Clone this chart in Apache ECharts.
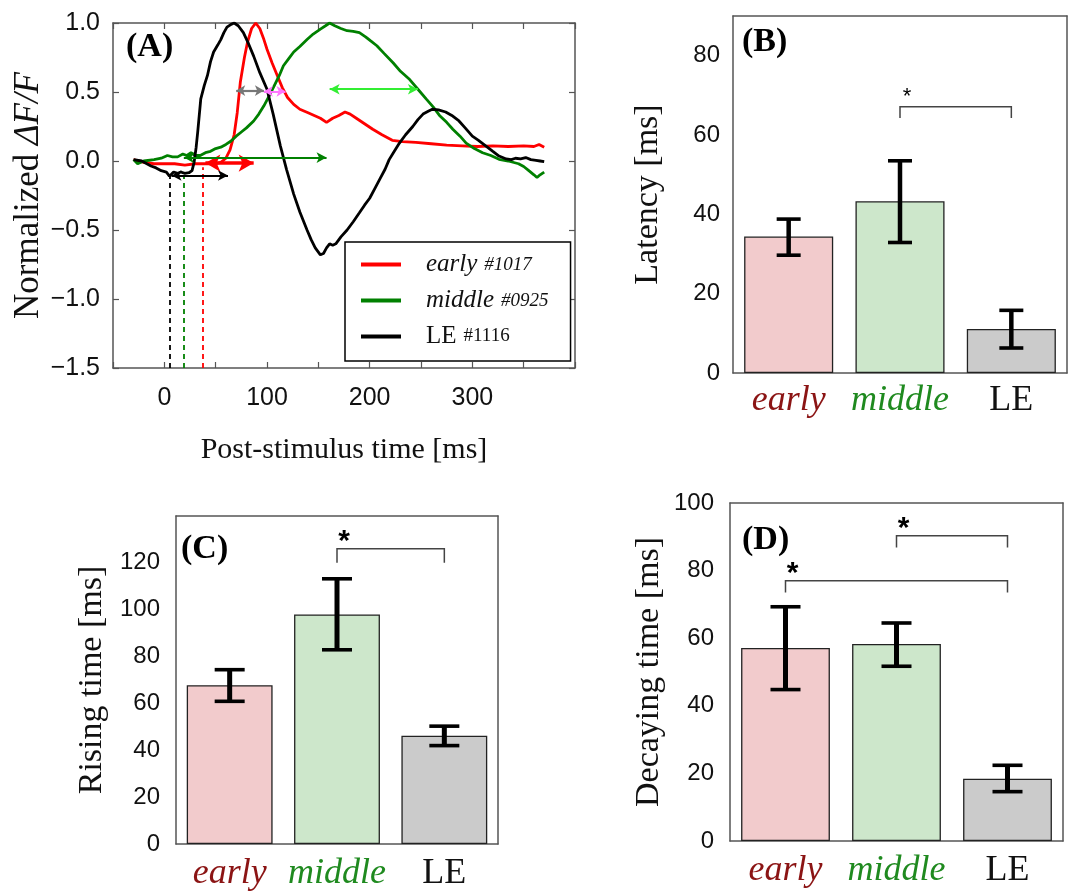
<!DOCTYPE html>
<html>
<head>
<meta charset="utf-8">
<title>Latency, rising and decaying time</title>
<script src="https://cdn.jsdelivr.net/npm/echarts@6/dist/echarts.min.js"></script>
<style>
  html, body { margin: 0; padding: 0; background: #fff; }
  #chart { width: 1073px; height: 892px; }
</style>
</head>
<body>
<div id="chart"></div>
<script>
// ---- panel A : normalized traces [time ms, dF/F] ----
const earlyTrace = [[-30,0.01],[-20,-0.01],[-10,-0.02],[0,-0.02],[10,-0.02],[20,-0.03],[30,-0.02],[40,-0.02],[50,-0.02],[55,-0.01],[60,0.02],[64,0.08],[68,0.19],[71,0.35],[74,0.57],[78,0.75],[81,0.86],[85,0.96],[89,1.0],[93,0.96],[97,0.88],[100,0.81],[105,0.71],[110,0.62],[115,0.53],[120,0.46],[126,0.41],[132,0.375],[140,0.35],[146,0.33],[152,0.31],[158,0.28],[164,0.31],[170,0.33],[176,0.355],[181,0.34],[187,0.31],[195,0.27],[203,0.23],[212,0.19],[222,0.15],[232,0.14],[245,0.135],[260,0.125],[275,0.115],[290,0.11],[305,0.105],[320,0.11],[335,0.105],[350,0.11],[360,0.105],[365,0.12],[370,0.1]];
const middleTrace = [[-30,0.01],[-26,-0.02],[-20,0.0],[-10,0.01],[-3,0.02],[3,0.04],[8,0.03],[13,0.03],[18,0.05],[22,0.04],[26,0.06],[30,0.04],[35,0.04],[40,0.06],[45,0.07],[50,0.09],[55,0.1],[60,0.12],[65,0.145],[70,0.18],[75,0.21],[80,0.24],[87,0.29],[92,0.34],[97,0.40],[102,0.47],[107,0.545],[112,0.62],[116,0.69],[121,0.74],[126,0.79],[132,0.83],[139,0.88],[145,0.92],[152,0.956],[157,0.98],[161,1.0],[166,0.98],[172,0.96],[178,0.944],[184,0.94],[190,0.93],[196,0.9],[201,0.87],[207,0.835],[214,0.78],[223,0.71],[230,0.65],[239,0.59],[247,0.52],[255,0.45],[262,0.39],[268,0.33],[275,0.28],[281,0.23],[288,0.18],[294,0.13],[302,0.09],[310,0.06],[318,0.04],[326,0.012],[335,0.0],[345,-0.02],[350,-0.04],[355,-0.07],[360,-0.1],[363,-0.12],[366,-0.1],[370,-0.08]];
const leTrace = [[-30,0.01],[-22,0.0],[-13,-0.036],[-8,-0.05],[-3,-0.07],[2,-0.08],[5,-0.11],[9,-0.08],[13,-0.09],[16,-0.08],[20,-0.09],[24,-0.085],[27,-0.07],[29,-0.01],[31,0.1],[32.5,0.21],[35.5,0.45],[39,0.55],[42,0.62],[45,0.72],[48,0.79],[52,0.84],[55,0.88],[58,0.93],[61,0.97],[65,0.99],[68,1.0],[72,0.98],[77,0.93],[82,0.85],[87,0.76],[93,0.64],[100,0.52],[106,0.34],[113,0.11],[119,-0.06],[126,-0.24],[132,-0.37],[139,-0.50],[143,-0.57],[147,-0.63],[152,-0.68],[155,-0.67],[158,-0.63],[161,-0.60],[164,-0.61],[167,-0.6],[172,-0.55],[178,-0.50],[184,-0.44],[190,-0.375],[195,-0.32],[200,-0.27],[205,-0.2],[210,-0.13],[215,-0.06],[219,0.01],[224,0.07],[229,0.13],[235,0.19],[242,0.25],[247,0.3],[252,0.34],[257,0.36],[261,0.375],[267,0.37],[274,0.355],[280,0.33],[287,0.29],[293,0.24],[300,0.18],[306,0.15],[313,0.11],[320,0.07],[326,0.036],[333,0.015],[338,0.01],[342,0.02],[347,0.015],[352,0.025],[357,0.01],[362,0.005],[366,0.0],[370,-0.005]];

// onset (dashed lines) per trace: [time, level it reaches]
const onsetEarly = [37, -0.045];
const onsetMiddle = [19, -0.11];
const onsetLE = [5, -0.11];
// rising-time arrows: [from ms, to ms, level]
const riseEarly = [40, 87, -0.015];
const riseMiddle = [19, 158, 0.025];
const riseLE = [7, 62, -0.105];
// decay (half height) arrows: [from ms, to ms, level]
const decayEarly = [97, 118, 0.505];
const decayMiddle = [161, 247, 0.52];
const decayLE = [70, 97, 0.51];

const unitIds = ['#1017', '#0925', '#1116'];

// ---- panels B-D : group means and error-bar ends ----
const categories = ['early', 'middle', 'LE'];
const latencyMean = [34.4, 43.3, 11.1];
const latencyLow = [29.7, 32.9, 6.3];
const latencyHigh = [38.8, 53.5, 15.8];
const risingMean = [67.8, 98.0, 46.2];
const risingLow = [60.9, 82.9, 42.0];
const risingHigh = [74.4, 113.2, 50.3];
const decayMean = [57.1, 58.3, 18.4];
const decayLow = [44.8, 51.7, 14.6];
const decayHigh = [69.3, 64.5, 22.4];
// significance brackets: [from category, to category, bar level, foot level]
const latencySig = [[1, 2, 67.1, 64.3]];
const risingSig = [[1, 2, 126, 120]];
const decaySig = [[1, 2, 90.3, 86.8], [0, 2, 77, 73.5]];

const SERIF = '"Liberation Serif", "Times New Roman", serif';
const SANS = '"Liberation Sans", Arial, sans-serif';
const AXIS_COLOR = '#555';
const traceColors = ['#ff0000', '#008000', '#000000'];
const barColors = ['#f2cbcc', '#cde7cb', '#cbcbcb'];
const catColors = ['#8b1414', '#1f8a1f', '#111111'];

const tickStyle = { inside: true, length: 6, lineStyle: { color: AXIS_COLOR, width: 1.2 } };
const lineStyleAxis = { show: true, onZero: false, lineStyle: { color: AXIS_COLOR, width: 1.5 } };

function arrow(seg, color, width, size) {
  return [
    { coord: [seg[0], seg[2]], symbol: 'arrow', symbolSize: size, lineStyle: { color: color, width: width, type: 'solid' } },
    { coord: [seg[1], seg[2]], symbol: 'arrow', symbolSize: size }
  ];
}

function dashed(onset, color) {
  return [
    { coord: [onset[0], -1.5], symbol: 'none', lineStyle: { color: color, width: 1.8, type: [5, 4] } },
    { coord: [onset[0], onset[1]], symbol: 'none' }
  ];
}

function traceSeries(name, data, color, marks) {
  return {
    name: name,
    type: 'line',
    xAxisIndex: 0,
    yAxisIndex: 0,
    data: data,
    showSymbol: false,
    symbol: 'none',
    lineStyle: { color: color, width: 2.8 },
    itemStyle: { color: color },
    z: 3,
    markLine: {
      silent: true,
      animation: false,
      label: { show: false },
      emphasis: { disabled: true },
      data: marks
    }
  };
}

function categoryAxes(gridIndex, labelMargin) {
  const rich = {};
  categories.forEach((c, i) => {
    rich['c' + i] = {
      fontFamily: SERIF, fontSize: 36, color: catColors[i],
      fontStyle: i < 2 ? 'italic' : 'normal'
    };
  });
  return [
    {
      type: 'category', gridIndex: gridIndex, data: categories, position: 'bottom',
      axisLine: lineStyleAxis, axisTick: Object.assign({ alignWithLabel: true }, tickStyle),
      axisLabel: { margin: labelMargin, formatter: (v) => '{c' + categories.indexOf(v) + '|' + v + '}', rich: rich },
      splitLine: { show: false }
    },
    {
      type: 'category', gridIndex: gridIndex, data: categories, position: 'top',
      axisLine: lineStyleAxis, axisTick: Object.assign({ alignWithLabel: true }, tickStyle),
      axisLabel: { show: false }, splitLine: { show: false }
    }
  ];
}

function valueAxes(gridIndex, max, interval, labelEvery, labelMax, name, nameGap, margin) {
  return [
    {
      type: 'value', gridIndex: gridIndex, min: 0, max: max, interval: interval, position: 'left',
      axisLine: lineStyleAxis, axisTick: tickStyle, splitLine: { show: false },
      axisLabel: {
        margin: margin, fontFamily: SANS, fontSize: 24, color: '#111',
        formatter: (v) => (v % labelEvery === 0 && v <= labelMax) ? String(v) : ''
      },
      name: name, nameLocation: 'middle', nameGap: nameGap, nameRotate: 90,
      nameTextStyle: { fontFamily: SERIF, fontSize: 34, color: '#111' }
    },
    {
      type: 'value', gridIndex: gridIndex, min: 0, max: max, interval: interval, position: 'right',
      axisLine: lineStyleAxis, axisTick: tickStyle, splitLine: { show: false },
      axisLabel: { show: false }
    }
  ];
}

function barSeries(axisIndex, means) {
  return {
    type: 'bar',
    xAxisIndex: axisIndex,
    yAxisIndex: axisIndex,
    barWidth: '80%',
    data: means.map((v, i) => ({ value: v, itemStyle: { color: barColors[i] } })),
    itemStyle: { borderColor: '#222', borderWidth: 1.3 },
    silent: true,
    z: 2
  };
}

function errorSeries(axisIndex, low, high, capHalf, width) {
  return {
    type: 'custom',
    xAxisIndex: axisIndex,
    yAxisIndex: axisIndex,
    silent: true,
    z: 5,
    data: low.map((lo, i) => [i, lo, high[i]]),
    encode: { x: 0, y: [1, 2] },
    renderItem: function (params, api) {
      const top = api.coord([api.value(0), api.value(2)]);
      const bot = api.coord([api.value(0), api.value(1)]);
      return {
        type: 'group',
        children: [
          { type: 'line', shape: { x1: top[0], y1: top[1], x2: bot[0], y2: bot[1] }, style: { stroke: '#000', lineWidth: width } },
          { type: 'line', shape: { x1: top[0] - capHalf, y1: top[1], x2: top[0] + capHalf, y2: top[1] }, style: { stroke: '#000', lineWidth: 3.6 } },
          { type: 'line', shape: { x1: bot[0] - capHalf, y1: bot[1], x2: bot[0] + capHalf, y2: bot[1] }, style: { stroke: '#000', lineWidth: 3.6 } }
        ]
      };
    }
  };
}

function bracketSeries(axisIndex, brackets, starSize, starBold) {
  return {
    type: 'custom',
    xAxisIndex: axisIndex,
    yAxisIndex: axisIndex,
    silent: true,
    z: 6,
    data: brackets,
    encode: { x: [0, 1], y: [2, 3] },
    renderItem: function (params, api) {
      const a = api.coord([api.value(0), api.value(2)]);
      const b = api.coord([api.value(1), api.value(2)]);
      const foot = api.coord([api.value(0), api.value(3)])[1];
      return {
        type: 'group',
        children: [
          {
            type: 'polyline',
            shape: { points: [[a[0], foot], [a[0], a[1]], [b[0], a[1]], [b[0], foot]] },
            style: { stroke: '#444', lineWidth: 1.5, fill: null }
          },
          {
            type: 'text',
            style: {
              text: '*', x: a[0] + 7, y: a[1] - 15 + starSize * 0.25,
              align: 'center', verticalAlign: 'middle',
              font: (starBold ? 'bold ' : '') + starSize + 'px ' + SANS, fill: '#000'
            }
          }
        ]
      };
    }
  };
}

const chart = echarts.init(document.getElementById('chart'), null, { renderer: 'canvas' });

const titleStyle = { fontFamily: SERIF, fontWeight: 'bold', fontSize: 34, lineHeight: 34, color: '#000' };

const option = {
  backgroundColor: '#fff',
  animation: false,
  title: [
    { text: '(A)', left: 126, top: 30, padding: 0, textStyle: titleStyle },
    { text: '(B)', left: 742, top: 25, padding: 0, textStyle: titleStyle },
    { text: '(C)', left: 181, top: 532, padding: 0, textStyle: titleStyle },
    { text: '(D)', left: 742, top: 523, padding: 0, textStyle: titleStyle }
  ],
  legend: {
    data: ['early', 'middle', 'LE'],
    orient: 'vertical',
    left: 345,
    top: 242,
    icon: 'rect',
    itemWidth: 40,
    itemHeight: 4,
    itemGap: 11,
    padding: [10, 22, 12, 16],
    borderColor: '#000',
    borderWidth: 1.5,
    backgroundColor: '#fff',
    selectedMode: false,
    formatter: function (name) {
      const i = categories.indexOf(name);
      return i < 2 ? '{it|' + name + '}{iu|' + unitIds[i] + '}' : '{rt|' + name + '}{ru|' + unitIds[i] + '}';
    },
    textStyle: {
      color: '#111',
      rich: {
        it: { fontFamily: SERIF, fontStyle: 'italic', fontSize: 25, lineHeight: 30, padding: [0, 0, 0, 20] },
        iu: { fontFamily: SERIF, fontStyle: 'italic', fontSize: 19, lineHeight: 30, padding: [0, 0, 0, 7] },
        rt: { fontFamily: SERIF, fontSize: 25, lineHeight: 30, padding: [0, 0, 0, 20] },
        ru: { fontFamily: SERIF, fontSize: 19, lineHeight: 30, padding: [0, 0, 0, 7] }
      }
    }
  },
  grid: [
    { left: 113, top: 23, width: 462, height: 345 },
    { left: 733, top: 16, width: 334, height: 357 },
    { left: 176, top: 516, width: 322, height: 333 },
    { left: 730, top: 503, width: 333, height: 338 }
  ],
  xAxis: [
    {
      type: 'value', gridIndex: 0, min: -50, max: 400, interval: 50, position: 'bottom',
      axisLine: lineStyleAxis, axisTick: tickStyle, splitLine: { show: false },
      axisLabel: {
        margin: 18, fontFamily: SANS, fontSize: 25, color: '#111',
        formatter: (v) => (v >= 0 && v < 400 && v % 100 === 0) ? String(v) : ''
      },
      name: 'Post-stimulus time [ms]', nameLocation: 'middle', nameGap: 67,
      nameTextStyle: { fontFamily: SERIF, fontSize: 30, color: '#111' }
    },
    {
      type: 'value', gridIndex: 0, min: -50, max: 400, interval: 50, position: 'top',
      axisLine: lineStyleAxis, axisTick: tickStyle, splitLine: { show: false }, axisLabel: { show: false }
    }
  ].concat(categoryAxes(1, 10), categoryAxes(2, 12), categoryAxes(3, 12)),
  yAxis: [
    {
      type: 'value', gridIndex: 0, min: -1.5, max: 1.0, interval: 0.5, position: 'left',
      axisLine: lineStyleAxis, axisTick: tickStyle, splitLine: { show: false },
      axisLabel: {
        margin: 13, fontFamily: SANS, fontSize: 25, color: '#111',
        formatter: (v) => v.toFixed(1).replace('-', '\u2212')
      },
      name: '{n|Normalized }{i|\u0394F/F}', nameLocation: 'middle', nameGap: 66, nameRotate: 90,
      nameTextStyle: {
        color: '#111',
        rich: {
          n: { fontFamily: SERIF, fontSize: 35 },
          i: { fontFamily: SERIF, fontSize: 35, fontStyle: 'italic' }
        }
      }
    },
    {
      type: 'value', gridIndex: 0, min: -1.5, max: 1.0, interval: 0.5, position: 'right',
      axisLine: lineStyleAxis, axisTick: tickStyle, splitLine: { show: false }, axisLabel: { show: false }
    }
  ].concat(
    valueAxes(1, 90, 10, 20, 80, 'Latency [ms]', 68, 13),
    valueAxes(2, 140, 20, 20, 120, 'Rising time [ms]', 67, 16),
    valueAxes(3, 100, 20, 20, 100, 'Decaying time [ms]', 64, 16)
  ),
  series: [
    traceSeries('early', earlyTrace, traceColors[0], [
      dashed(onsetEarly, traceColors[0]),
      arrow(riseEarly, '#ff0000', 3.5, [13, 15]),
      arrow(decayEarly, '#ff77ff', 2, [8, 9])
    ]),
    traceSeries('middle', middleTrace, traceColors[1], [
      dashed(onsetMiddle, traceColors[1]),
      arrow(riseMiddle, '#008000', 1.8, [8, 10]),
      arrow(decayMiddle, '#33ee33', 1.8, [8, 10])
    ]),
    traceSeries('LE', leTrace, traceColors[2], [
      dashed(onsetLE, traceColors[2]),
      arrow(riseLE, '#000000', 1.8, [8, 10]),
      arrow(decayLE, '#777777', 2.2, [8, 9])
    ]),
    barSeries(2, latencyMean),
    errorSeries(2, latencyLow, latencyHigh, 12, 4.5),
    bracketSeries(2, latencySig, 22, false),
    barSeries(4, risingMean),
    errorSeries(4, risingLow, risingHigh, 15, 5),
    bracketSeries(4, risingSig, 30, true),
    barSeries(6, decayMean),
    errorSeries(6, decayLow, decayHigh, 15, 5),
    bracketSeries(6, decaySig, 30, true)
  ]
};

chart.setOption(option);
</script>
</body>
</html>
